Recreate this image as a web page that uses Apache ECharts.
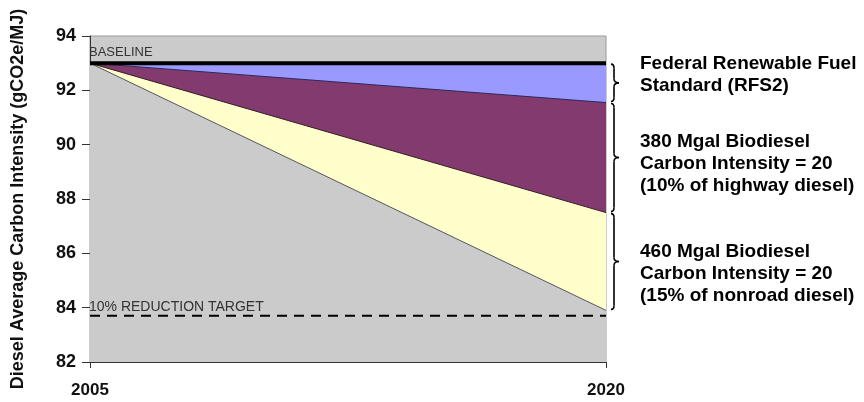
<!DOCTYPE html>
<html>
<head>
<meta charset="utf-8">
<script src="https://cdn.jsdelivr.net/npm/echarts@6/dist/echarts.min.js"></script>
<style>
  html, body { margin: 0; padding: 0; background: #fff; }
  #chart { width: 864px; height: 402px; }
</style>
</head>
<body>
<div id="chart"></div>
<script>
const years = ['2005', '2020']
const baseline = [93, 93]
const rfs2 = [93, 91.55]
const biodiesel380 = [93, 87.5]
const biodiesel460 = [93, 83.9]
const target = [83.7, 83.7]

const notes = [
  ['Federal Renewable Fuel', 'Standard (RFS2)'],
  ['380 Mgal Biodiesel', 'Carbon Intensity = 20', '(10% of highway diesel)'],
  ['460 Mgal Biodiesel', 'Carbon Intensity = 20', '(15% of nonroad diesel)']
]
// top of each note block, px
const noteTops = [53, 131, 241]

const font = 'Arial, "Liberation Sans", sans-serif'
const gray = '#cbcbcb'

const chart = echarts.init(document.getElementById('chart'))

const area = (name, data, fill, line, lineWidth) => ({
  name,
  type: 'line',
  data,
  symbol: 'none',
  lineStyle: { color: line, width: lineWidth },
  areaStyle: { color: fill, opacity: 1, origin: 'start' }
})

const hiddenLine = { color: 'rgba(0,0,0,0)', width: 0 }

chart.setOption({
  animation: false,
  grid: {
    left: 90, right: 258, top: 36, bottom: 40,
    show: true, backgroundColor: gray, borderColor: '#999', borderWidth: 1
  },
  xAxis: {
    type: 'category',
    data: years,
    boundaryGap: false,
    axisLine: { lineStyle: { color: '#333' } },
    axisTick: { show: true, length: 6, lineStyle: { color: '#333' } },
    axisLabel: { color: '#111', fontWeight: 'bold', fontSize: 17, fontFamily: font, margin: 20 },
    splitLine: { show: false }
  },
  yAxis: {
    type: 'value',
    min: 82, max: 94, interval: 2,
    name: 'Diesel Average Carbon Intensity (gCO2e/MJ)',
    nameLocation: 'middle',
    nameGap: 63,
    nameTextStyle: { color: '#111', fontWeight: 'bold', fontSize: 18, fontFamily: font },
    axisLine: { show: true, lineStyle: { color: '#333' } },
    axisTick: { show: true, length: 8, lineStyle: { color: '#333' } },
    axisLabel: { color: '#111', fontWeight: 'bold', fontSize: 18, fontFamily: font, margin: 14 },
    splitLine: { show: false }
  },
  series: [
    area('RFS2', baseline, '#9999ff', '#000', 0),
    area('380 Mgal', rfs2, '#833a6f', '#2a2a5a', 1),
    area('460 Mgal', biodiesel380, '#ffffcc', '#3a1a30', 1),
    area('Remaining', biodiesel460, gray, '#555', 1),
    {
      name: 'Baseline',
      type: 'line',
      data: baseline,
      symbol: 'none',
      lineStyle: { color: '#000', width: 4 },
      markLine: {
        symbol: 'none',
        silent: true,
        lineStyle: hiddenLine,
        label: { position: 'insideStartTop', formatter: 'BASELINE', color: '#333', fontSize: 13, fontFamily: font, distance: [-1, 4] },
        data: [{ yAxis: 93 }]
      }
    },
    {
      name: 'Target',
      type: 'line',
      data: target,
      symbol: 'none',
      lineStyle: { color: '#000', width: 2, type: [10, 7] },
      markLine: {
        symbol: 'none',
        silent: true,
        lineStyle: hiddenLine,
        label: { position: 'insideStartTop', formatter: '10% REDUCTION TARGET', color: '#333', fontSize: 14, fontFamily: font, distance: [-1, 2] },
        data: [{ yAxis: 83.7 }]
      }
    }
  ]
})

// braces span each band at 2020, notes sit to their right
const edges = [baseline[1], rfs2[1], biodiesel380[1], biodiesel460[1]]
  .map(v => chart.convertToPixel({ xAxisIndex: 0, yAxisIndex: 0 }, ['2020', v]))

const stroke = { stroke: '#000', lineWidth: 1.6, fill: null }

const brace = (x, y1, y2) => {
  const m = (y1 + y2) / 2
  const s = x + 3
  const tip = x + 8
  const r = Math.min(4, (y2 - y1) / 6)
  return {
    type: 'group',
    children: [
      { type: 'bezierCurve', shape: { x1: x, y1: y1, x2: s, y2: y1 + r, cpx1: s, cpy1: y1 }, style: stroke },
      { type: 'line', shape: { x1: s, y1: y1 + r, x2: s, y2: m - r }, style: stroke },
      { type: 'bezierCurve', shape: { x1: s, y1: m - r, x2: tip, y2: m, cpx1: s, cpy1: m }, style: stroke },
      { type: 'bezierCurve', shape: { x1: tip, y1: m, x2: s, y2: m + r, cpx1: s, cpy1: m }, style: stroke },
      { type: 'line', shape: { x1: s, y1: m + r, x2: s, y2: y2 - r }, style: stroke },
      { type: 'bezierCurve', shape: { x1: s, y1: y2 - r, x2: x, y2: y2, cpx1: s, cpy1: y2 }, style: stroke }
    ]
  }
}

const graphics = []
notes.forEach((lines, i) => {
  graphics.push(brace(edges[i][0] + 5, edges[i][1] + 1, edges[i + 1][1] - 1))
  graphics.push({
    type: 'text',
    x: 640,
    y: noteTops[i],
    style: {
      text: lines.join('\n'),
      fill: '#000',
      font: 'bold 19px ' + font,
      lineHeight: 22,
      verticalAlign: 'top'
    }
  })
})
chart.setOption({ graphic: graphics })
</script>
</body>
</html>
